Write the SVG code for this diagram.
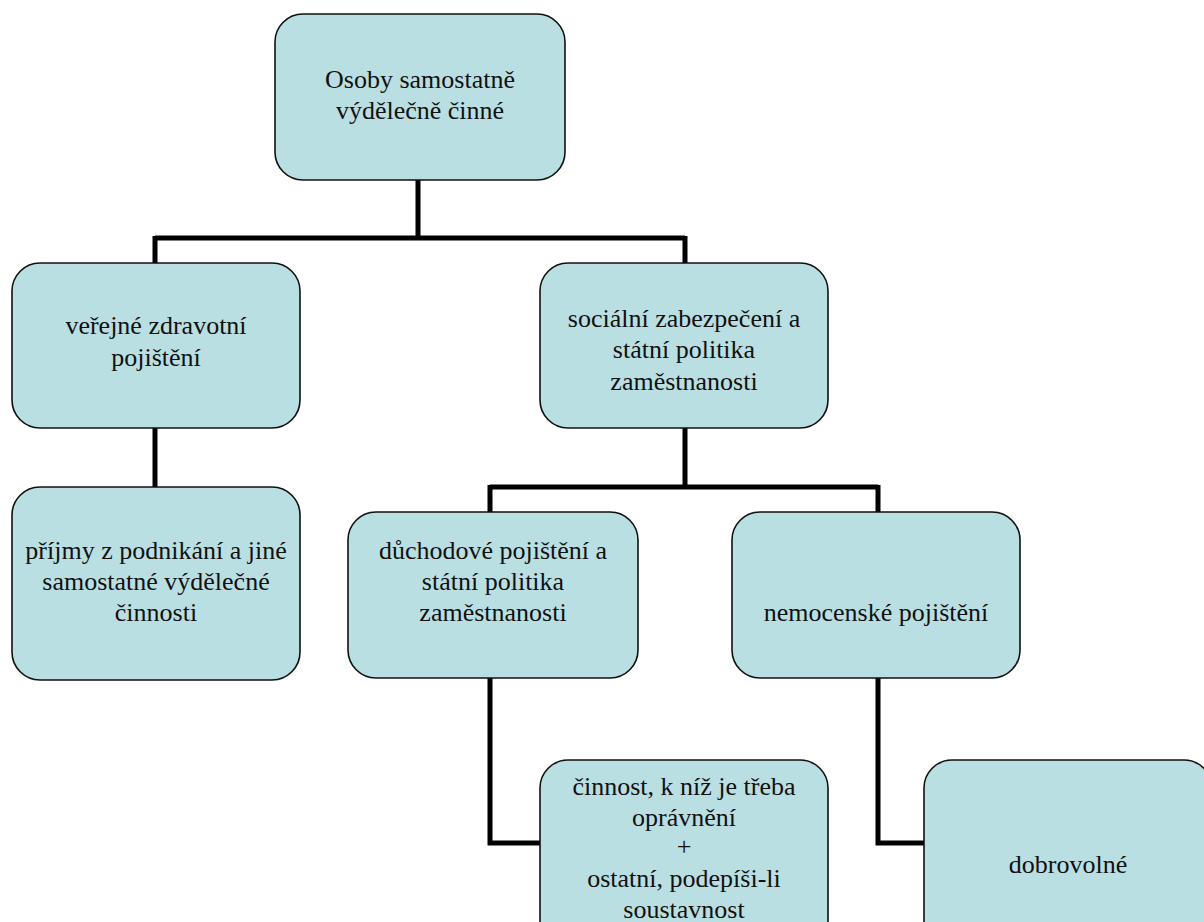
<svg xmlns="http://www.w3.org/2000/svg" width="1204" height="922" viewBox="0 0 1204 922">
<style>
.box{fill:#B9DFE3;stroke:#111;stroke-width:1.6}
.t{font-size:26px;fill:#111;text-anchor:middle}
.c{fill:none;stroke:#000;stroke-width:5;stroke-linejoin:miter}
</style>
<rect width="1204" height="922" fill="#fff"/>
<g id="connectors">
<path class="c" d="M418 180V238M155 238H685M155 236V263M685 236V263"/>
<path class="c" d="M155 428V487"/>
<path class="c" d="M685 428V487M490 487H878M490 485V512M878 485V512"/>
<path class="c" d="M490 678V843H540"/>
<path class="c" d="M878 678V843H924"/>
</g>
<g font-family="Liberation Serif, Times New Roman, DejaVu Serif, serif">
<g id="n1"><rect class="box" x="275" y="14" width="290" height="166" rx="28"/>
<text class="t" x="420" y="88">Osoby samostatně</text><text class="t" x="420" y="119">výdělečně činné</text></g>
<g id="n2"><rect class="box" x="12" y="263" width="288" height="165" rx="28"/>
<text class="t" x="156" y="334">veřejné zdravotní</text><text class="t" x="156" y="366">pojištění</text></g>
<g id="n3"><rect class="box" x="540" y="263" width="288" height="165" rx="28"/>
<text class="t" x="684" y="327">sociální zabezpečení a</text><text class="t" x="684" y="358">státní politika</text><text class="t" x="684" y="390">zaměstnanosti</text></g>
<g id="n4"><rect class="box" x="12" y="487" width="288" height="193" rx="28"/>
<text class="t" x="156" y="559">příjmy z podnikání a jiné</text><text class="t" x="156" y="590">samostatné výdělečné</text><text class="t" x="156" y="621">činnosti</text></g>
<g id="n5"><rect class="box" x="348" y="512" width="290" height="166" rx="28"/>
<text class="t" x="493" y="559">důchodové pojištění a</text><text class="t" x="493" y="590">státní politika</text><text class="t" x="493" y="621">zaměstnanosti</text></g>
<g id="n6"><rect class="box" x="732" y="512" width="288" height="166" rx="28"/>
<text class="t" x="876" y="621">nemocenské pojištění</text></g>
<g id="n7"><rect class="box" x="540" y="760" width="288" height="212" rx="28"/>
<text class="t" x="684" y="795">činnost, k níž je třeba</text><text class="t" x="684" y="826">oprávnění</text><text class="t" x="684" y="855">+</text><text class="t" x="684" y="887">ostatní, podepíši-li</text><text class="t" x="684" y="918">soustavnost</text></g>
<g id="n8"><rect class="box" x="924" y="760" width="288" height="212" rx="28"/>
<text class="t" x="1068" y="873">dobrovolné</text></g>
</g>
</svg>
